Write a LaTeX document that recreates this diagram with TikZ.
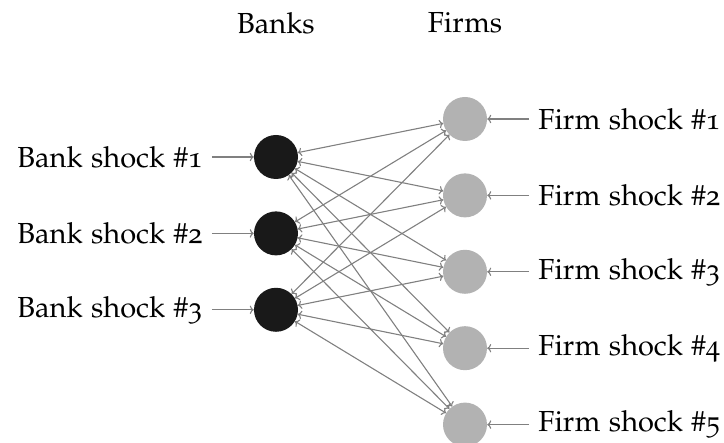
\documentclass[tikz,border=0pt]{standalone}
\usepackage[T1]{fontenc}
\usepackage[osf]{mathpazo}
\usepackage{tikz}
\usetikzlibrary {arrows,arrows.meta,positioning}

\begin{document}
\begin{tikzpicture}[x=1pt,y=-1pt,node distance = 32pt and 42pt,
    font=\fontsize{29}{34}\selectfont,
    bank/.style={circle,inner sep=0pt,minimum size=44pt,fill=black!90},
    firm/.style={circle,inner sep=0pt,minimum size=44pt,fill=black!30},
    shock/.style={inner sep=9pt},
    link/.style={<->,line width=1.1pt,draw=black!50},
    feed/.style={->,line width=1.1pt,draw=black!50},
   ]
    \useasboundingbox (0,0) rectangle (724,443);

    \node (banks) at (276,23) { Banks };
    \node (firms) at (465,23) { Firms };

    \node (bank1) [bank] at (276,157) {};
    \node (bank2) [bank,below=of bank1] {};
    \node (bank3) [bank,below=of bank2] {};

    \node (firm1) [firm] at (465,119) {};
    \node (firm2) [firm,below=of firm1] {};
    \node (firm3) [firm,below=of firm2] {};
    \node (firm4) [firm,below=of firm3] {};
    \node (firm5) [firm,below=of firm4] {};

    \node (bs1) [shock,left=of bank1] { Bank shock \#1 };
    \node (bs2) [shock,left=of bank2] { Bank shock \#2 };
    \node (bs3) [shock,left=of bank3] { Bank shock \#3 };

    \node (fs1) [shock,right=of firm1] { Firm shock \#1 };
    \node (fs2) [shock,right=of firm2] { Firm shock \#2 };
    \node (fs3) [shock,right=of firm3] { Firm shock \#3 };
    \node (fs4) [shock,right=of firm4] { Firm shock \#4 };
    \node (fs5) [shock,right=of firm5] { Firm shock \#5 };

    % shocks into the nodes
    \draw[feed] (bs1) edge (bank1) (bs2) edge (bank2) (bs3) edge (bank3);
    \draw[feed] (fs1) edge (firm1) (fs2) edge (firm2) (fs3) edge (firm3)
                (fs4) edge (firm4) (fs5) edge (firm5);

    % links between banks and firms
    \draw[link] (bank1) edge (firm1) edge (firm2) edge (firm3) edge (firm4) edge (firm5);
    \draw[link] (bank2) edge (firm1) edge (firm2) edge (firm3) edge (firm4) edge (firm5);
    \draw[link] (bank3) edge (firm1) edge (firm2) edge (firm3) edge (firm4) edge (firm5);
  \end{tikzpicture}
\end{document}
